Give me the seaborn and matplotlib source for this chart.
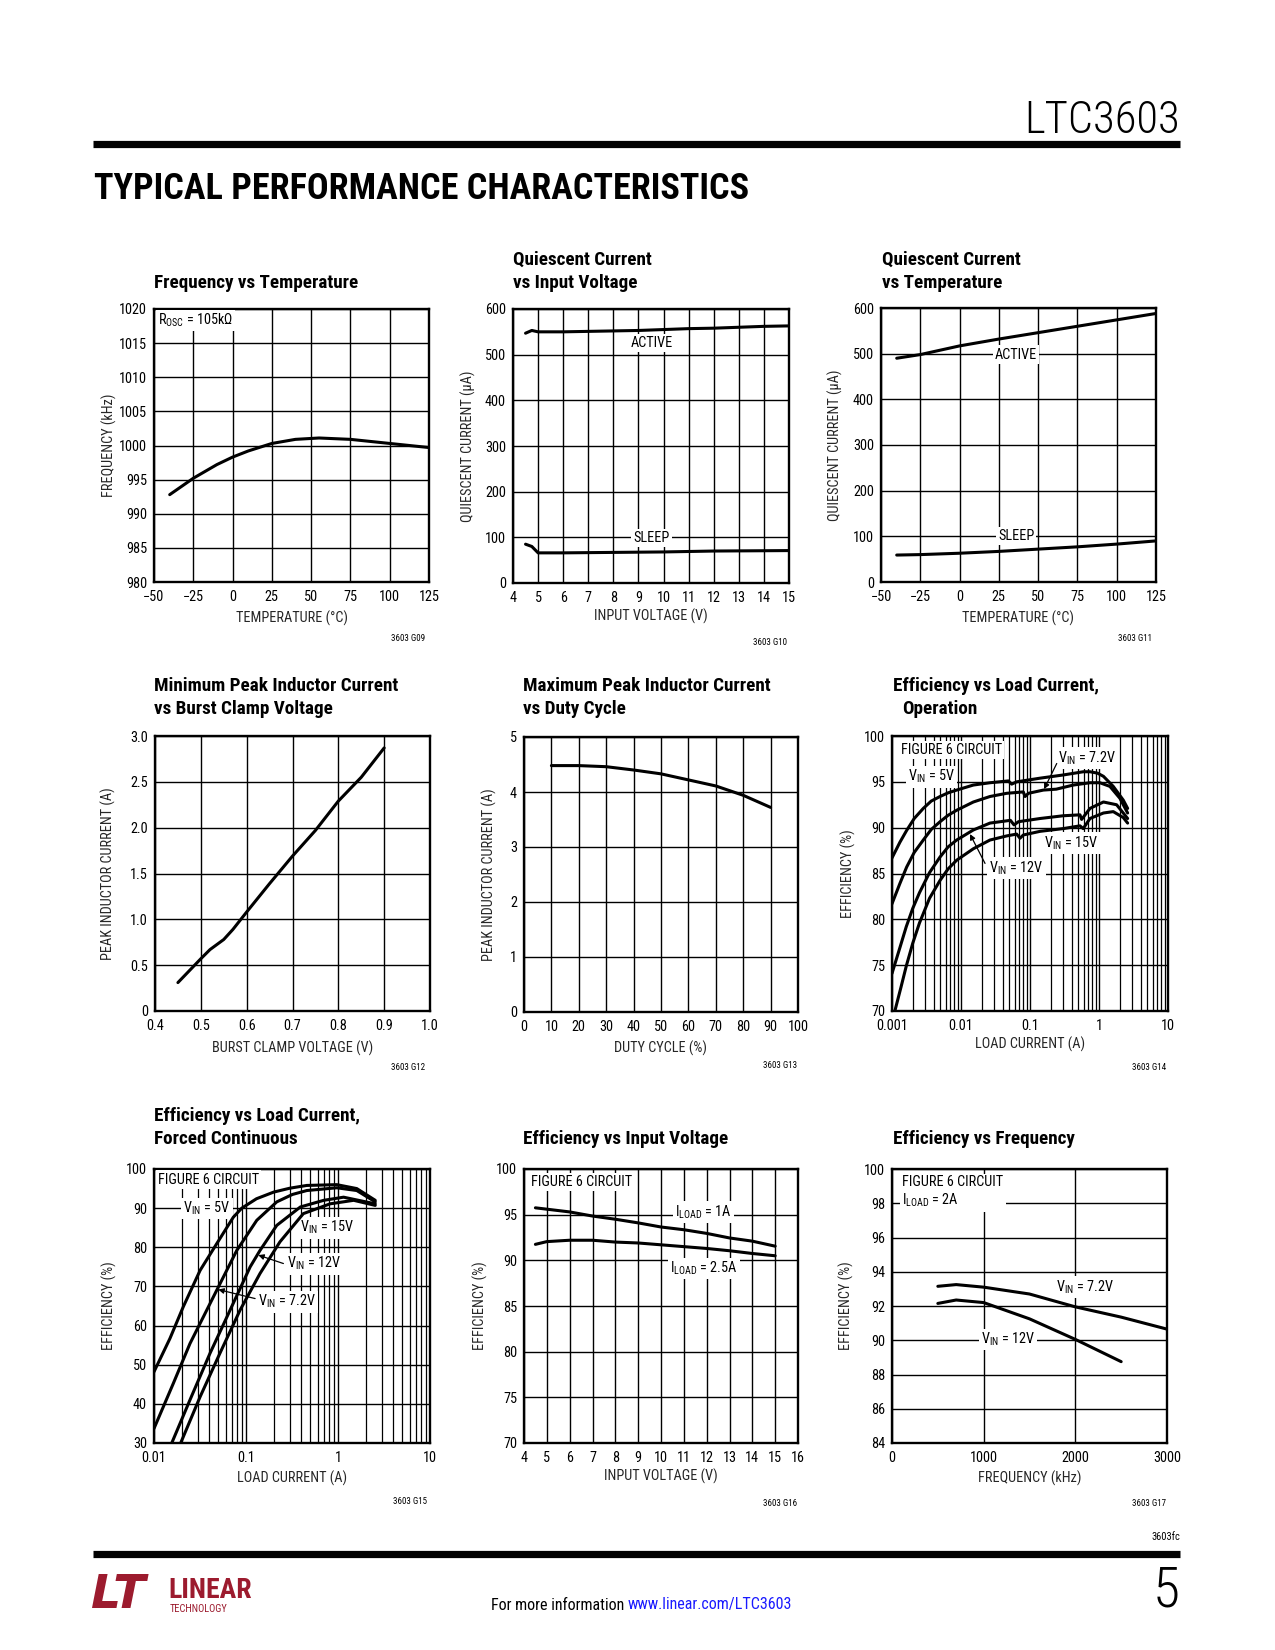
import numpy as np
import pandas as pd
import matplotlib
matplotlib.use("Agg")
import matplotlib.pyplot as plt
import seaborn as sns
from matplotlib import font_manager as fm
from matplotlib.lines import Line2D
from matplotlib.ticker import LogLocator, NullFormatter, FuncFormatter, MultipleLocator

# ---------------- data ----------------
# 1. Frequency vs Temperature
fvt_temp = [-40, -25, -10, 0, 10, 25, 40, 55, 75, 100, 125]
fvt_freq = [992.8, 995.2, 997.2, 998.3, 999.2, 1000.3, 1000.9, 1001.1, 1000.9, 1000.3, 999.7]

# 2. Quiescent current vs input voltage
qiv_vin_active = [4.5, 4.75, 5, 6, 7, 8, 9, 10, 11, 12, 13, 14, 15]
qiv_active = [547, 553, 550, 550, 551, 552, 553, 555, 557, 558, 560, 562, 563]
qiv_vin_sleep = [4.5, 4.75, 5, 6, 8, 10, 12, 15]
qiv_sleep = [85, 80, 66, 66, 67, 68, 70, 71]

# 3. Quiescent current vs temperature
qvt_temp = [-40, -25, 0, 25, 50, 75, 100, 125]
qvt_active = [490, 498, 517, 532, 546, 560, 574, 588]
qvt_sleep = [59, 60, 63, 67, 72, 77, 83, 90]

# 4. Minimum peak inductor current vs burst clamp voltage
bc_volt = [0.45, 0.50, 0.52, 0.55, 0.57, 0.60, 0.65, 0.70, 0.75, 0.80, 0.85, 0.90]
bc_curr = [0.31, 0.57, 0.67, 0.78, 0.89, 1.08, 1.39, 1.69, 1.97, 2.29, 2.55, 2.87]

# 5. Maximum peak inductor current vs duty cycle
mpk_duty = [10, 20, 30, 40, 50, 60, 70, 80, 90]
mpk_curr = [4.48, 4.48, 4.46, 4.40, 4.33, 4.22, 4.11, 3.94, 3.72]

# 6. Efficiency vs load current, operation
op5_load = [0.001, 0.0013, 0.00163, 0.0021, 0.00284, 0.0037, 0.00497, 0.0065, 0.00865, 0.0151, 0.0263,
            0.0486, 0.0542, 0.064, 0.14, 0.304, 0.593, 0.74, 0.95, 1.16, 1.61, 2.25, 2.6]
op5_eff = [86.7, 88.4, 89.7, 91.0, 92.1, 92.9, 93.4, 93.8, 94.1, 94.65, 94.9,
           95.1, 94.75, 95.0, 95.4, 95.75, 96.1, 96.1, 95.95, 95.6, 94.5, 93.0, 92.1]
op72_load = [0.001, 0.0013, 0.00163, 0.0021, 0.00284, 0.0037, 0.00497, 0.0065, 0.00865, 0.0151, 0.0263,
             0.046, 0.08, 0.0848, 0.095, 0.156, 0.24, 0.425, 0.74, 1.03, 1.44, 2.01, 2.6]
op72_eff = [81.7, 83.9, 85.7, 87.3, 88.65, 89.8, 90.65, 91.35, 91.9, 92.8, 93.4,
            93.75, 93.9, 93.4, 93.75, 94.1, 94.2, 94.65, 94.9, 94.9, 94.5, 93.2, 91.6]
op12_load = [0.001, 0.0013, 0.00161, 0.002, 0.0025, 0.0035, 0.00497, 0.0065, 0.00865, 0.0151, 0.0263,
             0.052, 0.0587, 0.068, 0.14, 0.304, 0.53, 0.56, 0.74, 1.16, 1.8, 2.6]
op12_eff = [74.1, 76.9, 79.2, 81.2, 82.9, 85.1, 86.8, 87.9, 88.65, 89.75, 90.5,
            90.8, 90.3, 90.65, 91.0, 91.3, 91.4, 90.9, 92.1, 92.8, 92.5, 91.0]
op15_load = [0.0011, 0.00135, 0.00161, 0.002, 0.0025, 0.0035, 0.00497, 0.0065, 0.00865, 0.0151, 0.0263,
             0.046, 0.064, 0.0717, 0.08, 0.14, 0.304, 0.53, 0.59, 0.74, 1.16, 1.61, 2.25, 2.6]
op15_eff = [70.0, 72.6, 74.9, 77.4, 79.6, 82.3, 84.25, 85.5, 86.45, 87.7, 88.65,
            89.1, 89.3, 88.85, 89.2, 89.6, 89.9, 90.2, 89.9, 91.0, 91.6, 91.75, 91.1, 90.5]

# 7. Efficiency vs load current, forced continuous
fc5_load = [0.01, 0.0149, 0.0208, 0.0317, 0.048, 0.0729, 0.09, 0.13, 0.2, 0.3, 0.458, 0.97, 1.6, 2.54]
fc5_eff = [48.2, 56.7, 64.8, 74.1, 80.9, 87.7, 90.0, 92.4, 94.1, 95.1, 95.8, 96.0, 95.0, 92.0]
fc72_load = [0.01, 0.0162, 0.0246, 0.048, 0.0794, 0.131, 0.216, 0.32, 0.458, 0.97, 1.6, 2.54]
fc72_eff = [33.7, 45.2, 55.4, 69.0, 79.2, 86.9, 91.6, 93.5, 94.5, 95.2, 94.5, 91.6]
fc12_load = [0.0156, 0.0246, 0.0406, 0.067, 0.111, 0.142, 0.216, 0.39, 0.70, 1.15, 2.54]
fc12_eff = [30.0, 41.0, 52.9, 63.9, 75.0, 79.2, 85.6, 90.3, 92.0, 92.8, 91.1]
fc15_load = [0.0195, 0.0317, 0.052, 0.086, 0.142, 0.234, 0.42, 0.82, 1.48, 2.54]
fc15_eff = [30.0, 41.8, 52.9, 63.9, 73.3, 81.4, 88.6, 91.1, 92.0, 90.7]

# 8. Efficiency vs input voltage
eiv_vin = [4.5, 5, 6, 7, 8, 9, 10, 11, 12, 13, 14, 15]
eiv_1a = [95.75, 95.6, 95.3, 94.85, 94.5, 94.1, 93.65, 93.35, 92.95, 92.45, 92.1, 91.55]
eiv_2p5a = [91.75, 92.05, 92.2, 92.2, 92.0, 91.9, 91.7, 91.5, 91.3, 91.05, 90.75, 90.5]

# 9. Efficiency vs frequency
evf_freq_72 = [500, 700, 1000, 1500, 2000, 2500, 3000]
evf_eff_72 = [93.15, 93.25, 93.1, 92.7, 91.95, 91.35, 90.65]
evf_freq_12 = [500, 700, 1000, 1500, 2000, 2500]
evf_eff_12 = [92.15, 92.35, 92.2, 91.25, 90.05, 88.75]

# ---------------- fonts ----------------
sns.set_theme(style="white")
avail = {f.name for f in fm.fontManager.ttflist}
BASE = "DejaVu Sans"
for c in ["Roboto Condensed", "Liberation Sans Narrow", "Archivo Narrow", "Barlow Semi Condensed"]:
    if c in avail:
        BASE = c
        break
plt.rcParams["font.family"] = [BASE, "DejaVu Sans"]
plt.rcParams["mathtext.default"] = "regular"

W, H = 1275, 1650
fig = plt.figure(figsize=(W / 100, H / 100), dpi=100)
fig.patch.set_facecolor("white")

TICK_FS = 10.3
LAB_FS = 10.3
TITLE_FS = 13.8
LW = 2.2


def fx(px):
    return px / W


def fy(py):
    return 1 - py / H


def make_ax(l, t, r, b):
    ax = fig.add_axes([l / W, 1 - b / H, (r - l) / W, (b - t) / H])
    ax.set_facecolor("white")
    for name, s in ax.spines.items():
        s.set_visible(True)
        s.set_color("black")
        s.set_linewidth(1.7)
    ax.tick_params(axis="both", which="both", length=0, labelsize=TICK_FS, colors="black")
    ax.tick_params(axis="x", pad=6)
    ax.tick_params(axis="y", pad=5)
    ax.set_axisbelow(True)
    ax.grid(True, which="major", color="black", linewidth=1.0)
    return ax


def curve(ax, x, y):
    sns.lineplot(x=x, y=y, ax=ax, color="black", linewidth=LW, estimator=None,
                 sort=False, zorder=4, legend=False)


def boxed(ax, x, y, s, ha="center", va="center", **kw):
    ax.text(x, y, s, ha=ha, va=va, fontsize=LAB_FS, color="black", zorder=3,
            bbox=dict(facecolor="white", edgecolor="none", pad=1.5), **kw)


def arrow(ax, tip, start):
    ax.annotate("", xy=tip, xytext=start,
                arrowprops=dict(arrowstyle="-|>", color="black", lw=0.9,
                                mutation_scale=8, shrinkA=0, shrinkB=0),
                zorder=5)


def labels(ax, xl, yl, xlab_y, ylab_x):
    ax.set_xlabel(xl, fontsize=LAB_FS, va="center")
    ax.set_ylabel(yl, fontsize=LAB_FS, va="center")
    ax.xaxis.set_label_coords(0.5, xlab_y)
    ax.yaxis.set_label_coords(ylab_x, 0.5)


def title(left, ys, lines, indent=None):
    for i, (y, s) in enumerate(zip(ys, lines)):
        x = left + (indent[i] if indent else 0)
        fig.text(fx(x), fy(y), s, ha="left", va="center", fontsize=TITLE_FS,
                 fontweight="bold", color="black")


def code(right, y, s):
    fig.text(fx(right), fy(y), s, ha="right", va="center", fontsize=6.5, color="black")


VIN = "V$_{\\mathregular{IN}}$"
ILOAD = "I$_{\\mathregular{LOAD}}$"

# ---------------- chart 1 ----------------
ax = make_ax(154, 309, 429, 582)
curve(ax, fvt_temp, fvt_freq)
ax.set_xlim(-50, 125)
ax.set_ylim(980, 1020)
ax.xaxis.set_major_locator(MultipleLocator(25))
ax.yaxis.set_major_locator(MultipleLocator(5))
boxed(ax, -47.5, 1018.3, "R$_{\\mathregular{OSC}}$ = 105k\u03a9", ha="left")
labels(ax, "TEMPERATURE (\u00b0C)", "FREQUENCY (kHz)", -0.132, -0.164)
title(154, [283], ["Frequency vs Temperature"])
code(425, 639, "3603 G09")

# ---------------- chart 2 ----------------
ax = make_ax(513, 309, 789, 583)
curve(ax, qiv_vin_active, qiv_active)
curve(ax, qiv_vin_sleep, qiv_sleep)
ax.set_xlim(4, 15)
ax.set_ylim(0, 600)
ax.xaxis.set_major_locator(MultipleLocator(1))
ax.yaxis.set_major_locator(MultipleLocator(100))
boxed(ax, 9.53, 526, "ACTIVE")
boxed(ax, 9.53, 98, "SLEEP")
labels(ax, "INPUT VOLTAGE (V)", "QUIESCENT CURRENT (\u00b5A)", -0.123, -0.161)
title(513, [260, 283], ["Quiescent Current", "vs Input Voltage"])
code(787, 643, "3603 G10")

# ---------------- chart 3 ----------------
ax = make_ax(881, 308, 1156, 582)
curve(ax, qvt_temp, qvt_active)
curve(ax, qvt_temp, qvt_sleep)
ax.set_xlim(-50, 125)
ax.set_ylim(0, 600)
ax.xaxis.set_major_locator(MultipleLocator(25))
ax.yaxis.set_major_locator(MultipleLocator(100))
boxed(ax, 36, 498, "ACTIVE")
boxed(ax, 36, 101, "SLEEP")
labels(ax, "TEMPERATURE (\u00b0C)", "QUIESCENT CURRENT (\u00b5A)", -0.131, -0.166)
title(882, [260, 283], ["Quiescent Current", "vs Temperature"])
code(1152, 639, "3603 G11")

# ---------------- chart 4 ----------------
ax = make_ax(155, 736, 430, 1011)
curve(ax, bc_volt, bc_curr)
ax.set_xlim(0.4, 1.0)
ax.set_ylim(0, 3.0)
ax.xaxis.set_major_locator(MultipleLocator(0.1))
ax.yaxis.set_major_locator(MultipleLocator(0.5))
ax.xaxis.set_major_formatter(FuncFormatter(lambda v, p: f"{v:.1f}"))
ax.yaxis.set_major_formatter(FuncFormatter(lambda v, p: "0" if abs(v) < 1e-9 else f"{v:.1f}"))
labels(ax, "BURST CLAMP VOLTAGE (V)", "PEAK INDUCTOR CURRENT (A)", -0.136, -0.168)
title(154, [686, 709], ["Minimum Peak Inductor Current", "vs Burst Clamp Voltage"])
code(425, 1068, "3603 G12")

# ---------------- chart 5 ----------------
ax = make_ax(524, 737, 798, 1012)
curve(ax, mpk_duty, mpk_curr)
ax.set_xlim(0, 100)
ax.set_ylim(0, 5)
ax.xaxis.set_major_locator(MultipleLocator(10))
ax.yaxis.set_major_locator(MultipleLocator(1))
labels(ax, "DUTY CYCLE (%)", "PEAK INDUCTOR CURRENT (A)", -0.132, -0.125)
title(523, [686, 709], ["Maximum Peak Inductor Current", "vs Duty Cycle"])
code(797, 1065, "3603 G13")

logfmt = FuncFormatter(lambda v, p: f"{v:g}")

# ---------------- chart 6 ----------------
ax = make_ax(892, 736, 1168, 1011)
ax.set_xscale("log")
curve(ax, op5_load, op5_eff)
curve(ax, op72_load, op72_eff)
curve(ax, op12_load, op12_eff)
curve(ax, op15_load, op15_eff)
ax.set_xlim(0.001, 10)
ax.set_ylim(70, 100)
ax.xaxis.set_major_locator(LogLocator(base=10, numticks=10))
ax.xaxis.set_minor_locator(LogLocator(base=10, subs=range(2, 10), numticks=20))
ax.xaxis.set_major_formatter(logfmt)
ax.xaxis.set_minor_formatter(NullFormatter())
ax.yaxis.set_major_locator(MultipleLocator(5))
ax.grid(True, which="minor", axis="x", color="black", linewidth=0.9)
boxed(ax, 0.00135, 98.5, "FIGURE 6 CIRCUIT", ha="left")
boxed(ax, 0.00376, 95.56, VIN + " = 5V")
boxed(ax, 0.664, 97.57, VIN + " = 7.2V")
arrow(ax, (0.16, 94.2), (0.244, 97.0))
boxed(ax, 0.40, 88.3, VIN + " = 15V")
boxed(ax, 0.064, 85.57, VIN + " = 12V")
arrow(ax, (0.0135, 89.3), (0.0223, 86.1))
labels(ax, "LOAD CURRENT (A)", "EFFICIENCY (%)", -0.122, -0.16)
title(893, [686, 709], ["Efficiency vs Load Current,", "Operation"], indent=[0, 9])
code(1166, 1067, "3603 G14")

# ---------------- chart 7 ----------------
ax = make_ax(154, 1169, 430, 1443)
ax.set_xscale("log")
curve(ax, fc5_load, fc5_eff)
curve(ax, fc72_load, fc72_eff)
curve(ax, fc12_load, fc12_eff)
curve(ax, fc15_load, fc15_eff)
ax.set_xlim(0.01, 10)
ax.set_ylim(30, 100)
ax.xaxis.set_major_locator(LogLocator(base=10, numticks=10))
ax.xaxis.set_minor_locator(LogLocator(base=10, subs=range(2, 10), numticks=20))
ax.xaxis.set_major_formatter(logfmt)
ax.xaxis.set_minor_formatter(NullFormatter())
ax.yaxis.set_major_locator(MultipleLocator(10))
ax.grid(True, which="minor", axis="x", color="black", linewidth=0.9)
boxed(ax, 0.0111, 97.3, "FIGURE 6 CIRCUIT", ha="left")
boxed(ax, 0.0374, 89.9, VIN + " = 5V")
boxed(ax, 0.757, 85.0, VIN + " = 15V")
boxed(ax, 0.55, 75.8, VIN + " = 12V")
arrow(ax, (0.136, 78.0), (0.255, 75.85))
boxed(ax, 0.278, 66.1, VIN + " = 7.2V")
arrow(ax, (0.05, 69.2), (0.1256, 66.9))
labels(ax, "LOAD CURRENT (A)", "EFFICIENCY (%)", -0.129, -0.163)
title(154, [1116, 1139], ["Efficiency vs Load Current,", "Forced Continuous"])
code(427, 1501, "3603 G15")

# ---------------- chart 8 ----------------
ax = make_ax(524, 1169, 798, 1443)
curve(ax, eiv_vin, eiv_1a)
curve(ax, eiv_vin, eiv_2p5a)
ax.set_xlim(4, 16)
ax.set_ylim(70, 100)
ax.xaxis.set_major_locator(MultipleLocator(1))
ax.yaxis.set_major_locator(MultipleLocator(5))
boxed(ax, 4.32, 98.6, "FIGURE 6 CIRCUIT", ha="left")
boxed(ax, 11.85, 95.3, ILOAD + " = 1A")
boxed(ax, 11.88, 89.1, ILOAD + " = 2.5A")
labels(ax, "INPUT VOLTAGE (V)", "EFFICIENCY (%)", -0.123, -0.159)
title(523, [1139], ["Efficiency vs Input Voltage"])
code(797, 1503, "3603 G16")

# ---------------- chart 9 ----------------
ax = make_ax(892, 1169, 1167, 1443)
curve(ax, evf_freq_72, evf_eff_72)
curve(ax, evf_freq_12, evf_eff_12)
ax.set_xlim(0, 3000)
ax.set_ylim(84, 100)
ax.xaxis.set_major_locator(MultipleLocator(1000))
ax.yaxis.set_major_locator(MultipleLocator(2))
boxed(ax, 113, 98.65, "FIGURE 6 CIRCUIT\n" + ILOAD + " = 2A", ha="left", linespacing=1.25)
boxed(ax, 2102, 93.1, VIN + " = 7.2V")
boxed(ax, 1265, 90.05, VIN + " = 12V")
labels(ax, "FREQUENCY (kHz)", "EFFICIENCY (%)", -0.129, -0.166)
title(893, [1139], ["Efficiency vs Frequency"])
code(1166, 1503, "3603 G17")

# ---------------- page furniture ----------------
fig.text(fx(1180), fy(121), "LTC3603", ha="right", va="center", fontsize=32,
         fontweight="light", color="black")
fig.add_artist(Line2D([fx(93), fx(1180)], [fy(144), fy(144)], transform=fig.transFigure,
                      color="black", linewidth=5.2, solid_capstyle="butt"))
fig.text(fx(94), fy(189), "TYPICAL PERFORMANCE CHARACTERISTICS", ha="left", va="center",
         fontsize=26, fontweight="heavy", color="black")

fig.text(fx(1180), fy(1537), "3603fc", ha="right", va="center", fontsize=7.5, color="black")
fig.add_artist(Line2D([fx(93), fx(1180)], [fy(1554), fy(1554)], transform=fig.transFigure,
                      color="black", linewidth=5.2, solid_capstyle="butt"))
fig.text(fx(1180), fy(1591), "5", ha="right", va="center", fontsize=40,
         fontweight="light", color="black")
fig.text(fx(624), fy(1605), "For more information", ha="right", va="center",
         fontsize=11.5, color="black")
fig.text(fx(628), fy(1605), "www.linear.com/LTC3603", ha="left", va="center",
         fontsize=11.5, color="#1a1aff")

RED = "#9c1b2e"
fig.text(fx(91), fy(1596), "LT", ha="left", va="center", fontsize=34, fontweight="bold",
         style="italic", family="DejaVu Sans", color=RED)
fig.text(fx(168), fy(1590), "LINEAR", ha="left", va="center", fontsize=20,
         fontweight="bold", color=RED)
fig.text(fx(170), fy(1609), "TECHNOLOGY", ha="left", va="center", fontsize=7.5, color=RED)

fig.savefig("out.png", dpi=100, facecolor="white")
